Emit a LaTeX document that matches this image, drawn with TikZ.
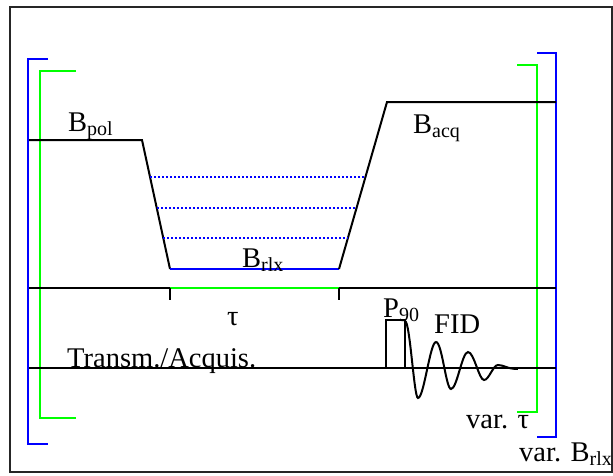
\documentclass[tikz,border=0pt]{standalone}
\usepackage{fontspec}
\setmainfont{Liberation Serif}
\newcommand\lowtxt[1]{\raisebox{-4.5pt}{\fontsize{20}{20}\selectfont #1}}
\begin{document}
\begin{tikzpicture}[x=1pt,y=-1pt,
  lbl/.style={anchor=base west,inner sep=0pt,font=\fontsize{28.5}{30}\selectfont},
  ln/.style={line width=2pt,black},
  bl/.style={line width=2pt,blue},
  gr/.style={line width=2pt,green},
  dots/.style={line width=1.6pt,blue,dash pattern=on 1.6pt off 2.4pt}]
\useasboundingbox (0,0) rectangle (613,475);
% frame
\draw[line width=2.2pt,black!85] (10,7) rectangle (612,472);
% brackets
\draw[bl] (48,59) -- (28,59) -- (28,444) -- (48,444);
\draw[gr] (76,71) -- (40,71) -- (40,418) -- (76,418);
\draw[gr] (517,65) -- (537,65) -- (537,412) -- (517,412);
\draw[bl] (537,53) -- (556,53) -- (556,437) -- (537,437);
% field profile
\coordinate (p0) at (29,140);
\coordinate (p1) at (142,140);
\coordinate (p2) at (170,269);
\coordinate (p3) at (339,269);
\coordinate (p4) at (387,102);
\coordinate (p5) at (556,102);
\draw[ln,line join=miter] (p0) -- (p1) -- (p2);
\draw[bl] (p2) -- (p3);
\draw[ln,line join=miter] (p3) -- (p4) -- (p5);
\draw[dots] (150,177) -- (366,177);
\draw[dots] (157,208) -- (357,208);
\draw[dots] (163,238) -- (348,238);
% time line
\coordinate (t0) at (29,288);
\coordinate (t1) at (170,288);
\coordinate (t2) at (339,288);
\coordinate (t3) at (556,288);
\draw[ln] (t0) -- (t1);
\draw[gr] (t1) -- (t2);
\draw[ln] (t2) -- (t3);
\draw[ln] (t1) -- (170,300);
\draw[ln] (t2) -- (339,300);
% transm line
\coordinate (a0) at (29,368);
\coordinate (a1) at (556,368);
\draw[ln] (a0) -- (a1);
% pulse
\draw[line width=1.6pt] (386,368) -- (386,320) -- (405,320) -- (405,368);
% FID
\draw[line width=2pt] (405,321) .. controls (410,321) and (414,398) .. (418,398)
  .. controls (424,398) and (430,342) .. (436,342)
  .. controls (442,342) and (446,389) .. (451,389)
  .. controls (457,389) and (462,352) .. (468,352)
  .. controls (474,352) and (479,380) .. (484,380)
  .. controls (489,380) and (493,365) .. (498,365)
  .. controls (504,365) and (507,369) .. (518,369);
% labels
\node[lbl] (bpol) at (68,131) {B\lowtxt{pol}};
\node[lbl] (bacq) at (413,133) {B\lowtxt{acq}};
\node[lbl] (brlx) at (242,267) {B\lowtxt{rlx}};
\node[lbl] (tau) at (227,325) {τ};
\node[lbl] (trans) at (67,367) {Transm./Acquis.};
\node[lbl] (p90) at (383,317) {P\lowtxt{90}};
\node[lbl] (fid) at (434,333) {FID};
\node[lbl] (vtau) at (466,428) {var. τ};
\node[lbl] (vb) at (519,461) {var. B\lowtxt{rlx}};
\end{tikzpicture}
\end{document}
